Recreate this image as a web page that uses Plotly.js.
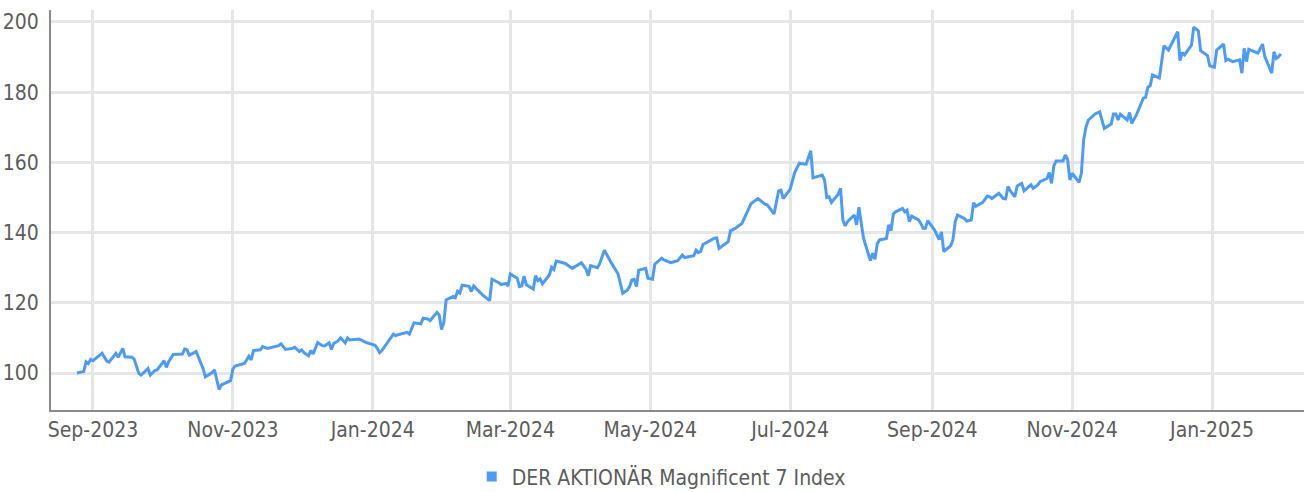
<!DOCTYPE html>
<html>
<head>
<meta charset="utf-8">
<script src="https://cdn.plot.ly/plotly-3.0.1.min.js"></script>
<style>
html,body{margin:0;padding:0;background:#fff;}
#chart{width:1304px;height:492px;}
</style>
</head>
<body>
<div id="chart"></div>
<script>
const seriesName = "DER AKTIONÄR Magnificent 7 Index";

const dates = [
"2023-08-25","2023-08-28","2023-08-29","2023-08-30","2023-08-31","2023-09-01","2023-09-05","2023-09-07","2023-09-08","2023-09-11",
"2023-09-12","2023-09-14","2023-09-15","2023-09-18","2023-09-19","2023-09-21","2023-09-22","2023-09-25","2023-09-26","2023-09-28",
"2023-09-29","2023-10-02","2023-10-03","2023-10-04","2023-10-06","2023-10-10","2023-10-11","2023-10-12","2023-10-13","2023-10-16",
"2023-10-19","2023-10-20","2023-10-23","2023-10-24","2023-10-26","2023-10-27","2023-10-31","2023-11-01","2023-11-02","2023-11-06",
"2023-11-07","2023-11-08","2023-11-09","2023-11-10","2023-11-13","2023-11-14","2023-11-16","2023-11-17","2023-11-19","2023-11-21",
"2023-11-22","2023-11-24","2023-11-27","2023-11-28","2023-11-30","2023-12-01","2023-12-02","2023-12-04","2023-12-05","2023-12-06",
"2023-12-08","2023-12-10","2023-12-11","2023-12-13","2023-12-14","2023-12-15","2023-12-17","2023-12-18","2023-12-20","2023-12-21",
"2023-12-22","2023-12-26","2023-12-29","2024-01-02","2024-01-03","2024-01-04","2024-01-05","2024-01-10","2024-01-11","2024-01-12",
"2024-01-16","2024-01-17","2024-01-19","2024-01-21","2024-01-22","2024-01-23","2024-01-25","2024-01-26","2024-01-29","2024-01-30",
"2024-01-31","2024-02-01","2024-02-02","2024-02-05","2024-02-06","2024-02-07","2024-02-08","2024-02-09","2024-02-12","2024-02-13",
"2024-02-14","2024-02-15","2024-02-18","2024-02-21","2024-02-22","2024-02-25","2024-02-26","2024-02-28","2024-02-29","2024-03-01",
"2024-03-04","2024-03-05","2024-03-06","2024-03-07","2024-03-08","2024-03-11","2024-03-12","2024-03-13","2024-03-14","2024-03-15",
"2024-03-18","2024-03-19","2024-03-20","2024-03-21","2024-03-25","2024-03-28","2024-03-30","2024-04-01","2024-04-03","2024-04-04",
"2024-04-05","2024-04-08","2024-04-09","2024-04-11","2024-04-14","2024-04-16","2024-04-17","2024-04-19","2024-04-21","2024-04-22",
"2024-04-23","2024-04-24","2024-04-25","2024-04-26","2024-04-29","2024-04-30","2024-05-02","2024-05-03","2024-05-06","2024-05-07",
"2024-05-10","2024-05-13","2024-05-15","2024-05-16","2024-05-20","2024-05-21","2024-05-22","2024-05-23","2024-05-24","2024-05-29",
"2024-05-30","2024-05-31","2024-06-04","2024-06-05","2024-06-07","2024-06-10","2024-06-12","2024-06-14","2024-06-17","2024-06-20",
"2024-06-21","2024-06-24","2024-06-26","2024-06-27","2024-06-28","2024-07-01","2024-07-03","2024-07-05","2024-07-08","2024-07-10",
"2024-07-11","2024-07-15","2024-07-16","2024-07-17","2024-07-18","2024-07-19","2024-07-22","2024-07-23","2024-07-24","2024-07-25",
"2024-07-26","2024-07-29","2024-07-30","2024-07-31","2024-08-02","2024-08-03","2024-08-05","2024-08-06","2024-08-07","2024-08-08",
"2024-08-09","2024-08-12","2024-08-13","2024-08-14","2024-08-15","2024-08-16","2024-08-19","2024-08-20","2024-08-21","2024-08-22",
"2024-08-23","2024-08-26","2024-08-27","2024-08-28","2024-08-29","2024-08-30","2024-09-02","2024-09-04","2024-09-05","2024-09-06",
"2024-09-09","2024-09-10","2024-09-11","2024-09-12","2024-09-15","2024-09-16","2024-09-18","2024-09-19","2024-09-20","2024-09-23",
"2024-09-25","2024-09-26","2024-09-27","2024-09-30","2024-10-02","2024-10-03","2024-10-04","2024-10-05","2024-10-07","2024-10-08",
"2024-10-10","2024-10-11","2024-10-14","2024-10-15","2024-10-17","2024-10-18","2024-10-21","2024-10-22","2024-10-23","2024-10-24",
"2024-10-25","2024-10-28","2024-10-29","2024-10-30","2024-10-31","2024-11-01","2024-11-04","2024-11-05","2024-11-06","2024-11-07",
"2024-11-08","2024-11-11","2024-11-12","2024-11-13","2024-11-15","2024-11-18","2024-11-19","2024-11-20","2024-11-21","2024-11-22",
"2024-11-25","2024-11-26","2024-11-27","2024-11-29","2024-12-02","2024-12-03","2024-12-04","2024-12-05","2024-12-06","2024-12-09",
"2024-12-11","2024-12-13","2024-12-17","2024-12-18","2024-12-19","2024-12-20","2024-12-23","2024-12-24","2024-12-26","2024-12-27",
"2024-12-30","2024-12-31","2025-01-02","2025-01-03","2025-01-06","2025-01-07","2025-01-08","2025-01-10","2025-01-13","2025-01-14",
"2025-01-15","2025-01-16","2025-01-17","2025-01-21","2025-01-23","2025-01-24","2025-01-27","2025-01-28","2025-01-29","2025-01-30",
"2025-01-31"
];

const values = [
100.0,100.4,103.2,102.7,103.9,103.5,105.6,103.4,103.1,105.6,
104.5,107.0,104.6,104.5,103.9,99.9,99.4,101.3,99.4,100.7,
100.9,103.5,101.6,103.2,105.3,105.4,106.8,106.6,105.1,106.1,
101.3,98.9,100.1,100.9,95.3,96.6,97.8,101.1,102.0,102.7,
103.7,104.8,103.7,106.4,106.6,107.5,107.0,107.2,107.5,107.8,
108.3,106.7,107.0,107.3,106.1,106.6,105.8,104.9,106.4,105.4,
108.7,107.8,107.7,108.6,106.7,108.4,109.2,110.0,108.6,110.0,
109.4,109.7,108.7,107.9,107.0,105.8,106.4,111.1,110.6,110.9,
111.6,111.1,114.3,114.0,114.0,115.6,115.4,114.9,117.3,116.5,
112.4,114.3,120.8,121.8,121.4,123.3,122.8,125.0,124.7,123.2,
124.8,124.1,122.2,120.6,126.7,125.7,125.2,125.5,124.8,128.2,
127.0,124.6,124.8,127.6,125.1,123.9,127.7,126.3,126.8,125.4,
127.9,130.1,129.5,131.9,131.2,129.8,130.5,131.4,129.6,127.7,
130.6,130.0,131.2,135.0,131.4,129.1,128.2,122.7,123.6,124.6,
126.5,126.7,124.6,129.3,129.8,127.0,126.7,131.0,132.7,132.2,
131.4,132.0,133.6,132.9,133.4,135.0,134.3,134.6,136.6,138.4,
138.5,135.5,137.4,140.5,141.2,142.6,145.3,148.3,149.7,148.1,
147.9,145.3,151.9,152.1,149.7,152.3,157.1,159.7,159.5,163.3,
155.6,156.4,155.0,150.0,150.2,148.6,150.9,152.6,143.6,141.9,
143.1,145.0,142.2,147.2,138.4,136.0,132.0,134.1,132.4,136.8,
137.9,138.3,142.2,140.5,145.3,145.9,146.9,145.9,146.4,143.1,
144.7,143.6,142.6,141.2,141.2,143.4,140.7,138.0,140.2,134.6,
136.2,137.9,143.1,145.0,144.0,143.3,143.6,148.5,147.5,148.6,
150.4,150.2,149.7,151.2,149.7,149.6,153.1,151.9,150.2,153.3,
154.0,151.9,153.6,152.6,153.6,154.5,155.4,157.1,154.0,159.0,
160.4,160.4,162.1,160.8,155.0,156.9,154.3,156.9,166.4,170.0,
172.0,173.8,174.0,174.4,169.7,170.9,173.8,173.8,172.1,173.7,
172.1,174.2,171.1,173.5,178.3,178.5,181.4,181.8,184.9,184.0,
193.2,192.0,197.2,189.0,191.3,190.6,193.4,198.5,197.5,191.8,
190.4,187.5,187.1,192.0,193.7,189.0,189.4,188.7,189.2,185.4,
192.5,188.7,192.2,191.1,193.7,190.1,185.4,191.5,189.6,190.1,
190.9
];

const yTicks = [100, 120, 140, 160, 180, 200];

const lineColor = "#4d9bf5";
const fontFamily = "'DejaVu Sans Condensed', 'Liberation Sans Narrow', sans-serif";
const textColor = "#5c5c5c";

const traces = [
  {
    type: "scatter",
    mode: "lines",
    x: dates,
    y: values,
    name: seriesName,
    showlegend: false,
    line: {color: lineColor, width: 3},
    hoverinfo: "x+y"
  },
  {
    type: "scatter",
    mode: "markers",
    x: [null],
    y: [null],
    name: seriesName,
    showlegend: true,
    marker: {symbol: "square", size: 10, color: lineColor}
  }
];

const layout = {
  width: 1304,
  height: 492,
  margin: {l: 51, r: 0, t: 10, b: 82, pad: 0, autoexpand: false},
  paper_bgcolor: "#ffffff",
  plot_bgcolor: "#ffffff",
  font: {family: fontFamily, size: 21, color: textColor},
  xaxis: {
    type: "date",
    range: ["2023-08-13 17:00", "2025-02-10 02:00"],
    tick0: "2023-09-01",
    dtick: "M2",
    tickformat: "%b-%Y",
    showgrid: true,
    gridcolor: "#e6e6e6",
    gridwidth: 3,
    showline: true,
    linecolor: "#8a8a8a",
    linewidth: 2,
    ticks: "",
    zeroline: false,
    automargin: false,
    tickfont: {family: fontFamily, size: 21, color: textColor}
  },
  yaxis: {
    range: [89.46, 203.4],
    tickvals: yTicks,
    showgrid: true,
    gridcolor: "#e6e6e6",
    gridwidth: 3,
    showline: true,
    linecolor: "#8a8a8a",
    linewidth: 2,
    ticks: "",
    ticklabelstandoff: 6,
    zeroline: false,
    automargin: false,
    tickfont: {family: fontFamily, size: 21, color: textColor}
  },
  showlegend: true,
  legend: {
    orientation: "h",
    x: 0.487,
    xanchor: "center",
    y: -0.116,
    yanchor: "top",
    font: {family: fontFamily, size: 21, color: textColor},
    bgcolor: "rgba(0,0,0,0)"
  }
};

Plotly.newPlot("chart", traces, layout, {displayModeBar: false, staticPlot: true});
</script>
</body>
</html>
